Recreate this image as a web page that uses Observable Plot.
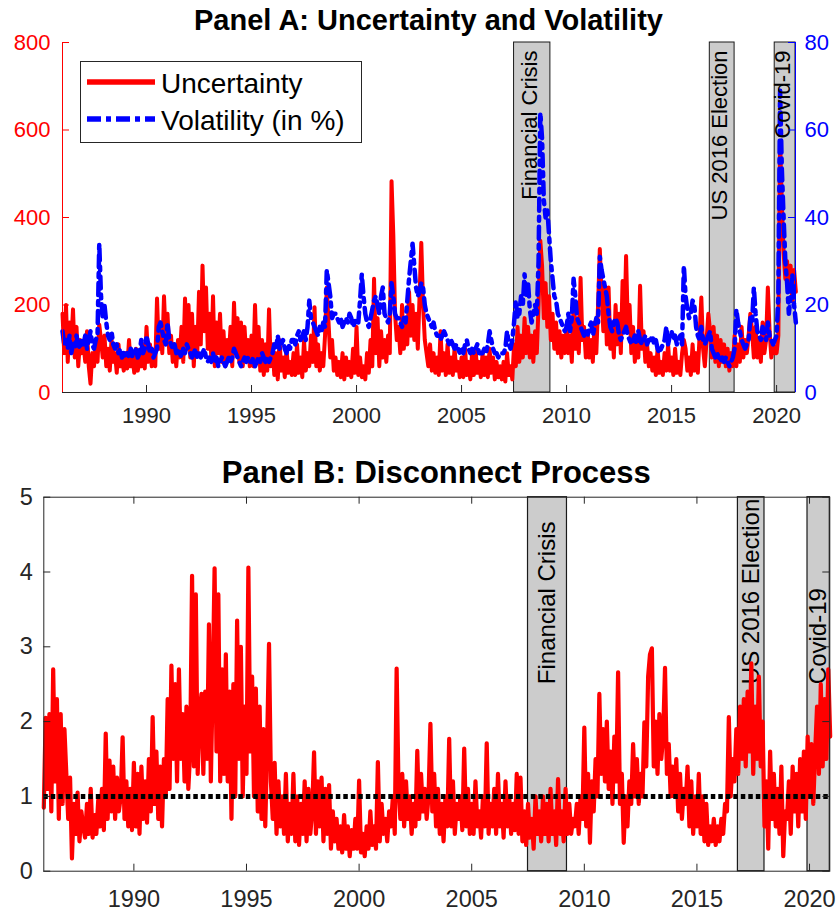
<!DOCTYPE html>
<html>
<head>
<meta charset="utf-8">
<script src="https://cdn.jsdelivr.net/npm/d3@7"></script>
<script src="https://cdn.jsdelivr.net/npm/@observablehq/plot@0.6"></script>
<style>
  html, body { margin: 0; padding: 0; background: #fff; }
  #root { width: 836px; height: 912px; position: relative; overflow: hidden; }
  #root svg { display: block; }
</style>
</head>
<body>
<div id="root"></div>
<script>
// ---------------- DATA (monthly, Jan 1986 .. Dec 2020) ----------------
const startYear = 1986;

const uncertainty = [
  180, 90,200, 70,160,110,190, 80,150, 60,120, 90,   // 1986
  110, 70,140, 60, 20, 90, 60,110, 70,155,120, 80,   // 1987
  130, 60,100, 50,120, 70, 90, 45,110, 60, 80, 50,   // 1988
   90, 55,120, 60, 80, 45,100, 50, 75, 60,110, 55,   // 1989
  150, 70,110, 60, 90, 60,215,100,160, 90,220,120,   // 1990
  180, 90,130, 70,110, 60,120, 80,150, 70,215,100,   // 1991
  200, 80,180, 60,150, 90,230,110,290,140,240,100,   // 1992
  180, 80,220, 60,160, 90,180, 70,140, 60,120, 80,   // 1993
  150, 60,205, 90,170, 70,160, 60,150, 80,120, 60,   // 1994
  130, 60,200, 70,150, 50,120, 40,110, 50,190, 60,   // 1995
  110, 40, 90, 30,120, 50, 80, 35,100, 45, 70, 40,   // 1996
   90, 40,110, 45, 80, 35,120, 50, 90, 60,130, 70,   // 1997
  195, 60,110, 50, 90, 60,130,240,160, 80,120, 50,   // 1998
   80, 40, 70, 35, 90, 30, 80, 40, 70, 35,100, 45,   // 1999
  150, 40, 80, 35, 60, 30, 90, 45,120, 60,260, 90,   // 2000
  170, 60,140, 80,120, 70,130, 90,483,360,180,120,   // 2001
  150, 90,200,100,160,110,230,130,200,120,180,100,   // 2002
  220,342,200,120, 90, 60,110, 50, 90, 45, 80, 40,   // 2003
  140, 50, 90, 40,110, 45, 80, 40,100, 50, 70, 35,   // 2004
   80, 35,100, 40, 70, 30, 90, 40,100, 45, 70, 35,   // 2005
   90, 40, 80, 35,100, 45, 80, 30, 70, 35, 60, 30,   // 2006
   70, 25, 90, 40, 60, 30,110, 60,150, 70,130, 80,   // 2007
  170, 90,150, 80,130, 70,140, 90,200,347,290,170,   // 2008
  250,150,220,120,180,100,160, 90,140, 80,130, 90,   // 2009
  150, 90,130, 70,200,100,170, 90,262,120,150, 80,   // 2010
  140, 80,120, 70,160, 90,200,328,220,140,240,110,   // 2011
  240,100,160, 80,200,110,180, 90,255,140,312,150,   // 2012
  200, 90,150, 70,130, 80,244,100,140, 70,110, 60,   // 2013
   90, 50, 80, 40,100, 45, 70, 40, 90, 50,110, 50,   // 2014
   80, 40,100, 45, 70, 40, 90,120,100, 50, 80, 40,   // 2015
  110, 50, 90, 45,130,217,100, 60,120,180,140, 80,   // 2016
  150, 70,130, 60,120, 70,110, 60,100, 50, 90, 60,   // 2017
  130, 60,110, 70,150, 80,120, 90,130,180,140, 80,   // 2018
  150, 80,120, 70,160, 90,120,240,140, 80,110, 90,   // 2019
   90,130,575,430,320,260,300,230,290,210,280,230    // 2020
];

const volatility = [
  14,11,12,10,13, 9,11,10,13,11,10,12,   // 1986
  11,13,10,12,14,11,10,12,13,34,22,17,   // 1987
  20,16,13,12,14,11,10,11, 9,10, 8, 9,   // 1988
   8, 9, 8,10, 8, 9,10, 8, 9,12, 9,10,   // 1989
  13,11, 9,10, 8, 9,10,15,16,14,12,11,   // 1990
  16,12,11,10,11, 9,10, 9, 8,10, 9,11,   // 1991
  10, 9, 8, 9,10, 8, 9, 8, 9,10, 8, 7,   // 1992
   8, 7, 9, 7, 8, 6, 7, 8, 7, 6, 7, 8,   // 1993
   7, 8,10, 9, 8, 7, 6, 7, 8, 7, 8, 7,   // 1994
   7, 8, 6, 7, 8, 7, 9, 8, 7, 8, 7, 8,   // 1995
   9,11,10,13,10,11,12,10, 9,11,10,12,   // 1996
  12,11,13,14,12,13,14,12,15,21,17,16,   // 1997
  15,14,13,15,14,16,15,28,25,22,17,18,   // 1998
  18,17,16,17,15,16,17,16,18,17,15,16,   // 1999
  17,16,21,27,22,18,16,15,17,19,21,22,   // 2000
  20,18,22,24,18,17,16,18,25,22,18,17,   // 2001
  17,16,15,17,16,21,26,30,34,29,24,22,   // 2002
  23,25,24,20,18,17,16,15,16,14,13,13,   // 2003
  12,13,14,13,12,11,12,11,10,11,10, 9,   // 2004
  10, 9,11,12,10, 9,10, 9,10,11, 9, 9,   // 2005
   9,10, 9,11,14,12,10, 9, 9, 8, 9, 9,   // 2006
   9,10,14,11,10,12,16,21,17,18,22,20,   // 2007
  27,22,25,19,16,18,20,18,30,64,58,44,   // 2008
  40,42,36,30,26,22,21,18,17,16,15,14,   // 2009
  15,18,14,17,26,22,17,16,15,14,13,14,   // 2010
  13,15,16,13,15,17,16,31,28,26,24,22,   // 2011
  18,15,14,16,17,16,13,12,13,14,15,13,   // 2012
  12,11,12,13,11,14,12,11,12,13,11,12,   // 2013
  12,13,11,12,10, 9,10,11,12,15,11,13,   // 2014
  14,12,13,11,12,13,11,29,22,19,17,18,   // 2015
  21,20,15,13,12,15,12,11,12,13,14,10,   // 2016
   9, 8, 9, 8, 7, 8, 7, 8, 7, 6, 7, 8,   // 2017
  10,19,16,14,12,11,10,11,12,17,16,24,   // 2018
  18,14,13,12,15,13,12,16,13,12,11,12,   // 2019
  13,22,69,51,40,30,25,18,22,27,20,16    // 2020
];

const disconnect = [
  0.85,2.05,1.1,2.1,0.8,2.7,1.2,2.3,0.7,2.1,0.9,1.9,        // 1986
  1.3,0.7,1.25,0.17,0.9,0.5,1.05,0.4,0.8,0.6,0.45,0.9,      // 1987
  0.5,1.1,0.45,0.75,0.5,0.95,0.6,1.1,0.55,1.84,0.7,1.48,    // 1988
  0.8,1.4,0.7,1.25,0.8,1.0,1.79,0.7,1.2,0.6,1.1,0.55,       // 1989
  1.45,0.6,1.3,0.5,1.4,0.7,1.2,0.65,1.5,0.8,2.06,0.9,       // 1990
  1.6,0.7,1.4,0.6,1.5,1.0,2.3,1.1,2.75,1.5,2.5,1.2,         // 1991
  2.7,1.5,2.1,1.2,2.2,1.1,1.6,3.95,1.4,3.7,1.3,2.1,         // 1992
  2.37,1.3,2.4,1.5,3.3,1.2,2.5,4.05,1.6,3.7,1.2,2.7,        // 1993
  1.3,2.9,1.2,2.4,0.7,2.5,1.0,3.35,1.5,3.0,1.0,2.2,         // 1994
  1.3,4.06,1.6,2.6,1.0,2.44,0.8,2.2,0.7,1.9,0.6,1.7,        // 1995
  3.04,1.2,0.7,1.45,0.5,1.2,0.6,1.0,0.5,1.3,0.4,0.9,        // 1996
  0.5,1.3,0.4,1.0,0.35,0.9,0.5,1.2,0.4,1.1,0.5,0.8,         // 1997
  1.59,0.5,1.2,0.6,1.25,0.4,1.1,0.5,1.15,0.3,0.8,0.4,       // 1998
  0.7,0.3,0.6,0.25,0.75,0.3,0.6,0.2,0.55,0.3,0.7,0.3,       // 1999
  1.21,0.25,0.5,0.2,0.6,0.3,0.8,0.35,0.6,0.3,1.46,0.4,      // 2000
  0.9,0.5,0.7,0.4,0.8,0.6,1.0,0.5,2.71,1.1,0.7,1.3,         // 2001
  0.6,1.2,0.7,1.0,0.5,0.9,0.6,1.61,0.7,1.3,0.8,1.1,         // 2002
  0.7,1.0,1.97,0.8,1.3,0.6,1.1,0.5,0.9,0.4,1.0,0.6,         // 2003
  1.77,0.6,1.2,0.5,0.9,0.7,1.0,0.55,1.64,0.6,1.1,0.5,       // 2004
  0.9,0.5,1.2,0.6,0.8,0.45,1.0,0.6,1.71,0.5,0.9,0.6,        // 2005
  1.1,0.5,1.3,0.6,0.9,0.45,1.2,0.6,1.0,0.5,0.9,0.55,        // 2006
  1.3,0.5,1.25,0.4,0.8,0.35,0.9,0.45,0.7,0.3,1.0,0.5,       // 2007
  0.8,0.4,1.0,0.5,0.9,0.4,1.1,0.5,0.8,0.35,1.23,0.5,        // 2008
  0.8,0.4,1.1,0.5,0.9,0.5,0.7,0.6,0.9,0.5,1.0,0.7,          // 2009
  1.92,0.6,1.3,0.38,1.2,0.8,1.5,1.0,2.37,1.3,1.9,1.2,       // 2010
  2.0,1.1,1.6,0.9,1.8,1.2,2.66,0.9,1.3,0.38,1.0,0.6,        // 2011
  1.2,0.9,1.7,1.0,1.5,0.9,1.3,1.0,1.99,1.4,2.6,2.9,         // 2012
  2.98,1.4,2.0,1.3,2.1,1.5,1.8,2.72,1.3,1.7,1.0,1.4,        // 2013
  1.0,1.5,0.8,1.3,0.7,1.1,0.9,1.4,0.6,1.2,0.5,1.0,          // 2014
  0.6,1.3,0.5,1.0,0.4,0.9,0.35,0.6,0.4,0.7,0.35,0.6,        // 2015
  0.4,0.7,0.5,0.9,0.8,2.06,1.0,1.5,1.2,1.9,1.3,2.2,         // 2016
  1.5,2.3,1.4,2.4,1.6,2.78,1.3,2.2,1.5,2.6,1.4,2.0,         // 2017
  0.6,1.2,0.3,1.6,0.7,1.3,0.6,1.1,0.5,1.4,0.2,0.8,          // 2018
  0.7,1.2,0.5,1.4,0.8,1.3,0.6,1.5,0.8,1.6,0.7,1.8,          // 2019
  1.0,1.7,0.9,1.6,2.2,1.3,2.5,1.4,2.3,1.5,2.7,1.8           // 2020
];

const eventNames  = ["Financial Crisis", "US 2016 Election", "Covid-19"];
const eventStarts = [2007.5, 2016.82, 2019.91];
const eventEnds   = [2009.23, 2018.0, 2020.9];

const seriesNames = ["Uncertainty", "Volatility (in %)"];
const titleA = "Panel A: Uncertainty and Volatility";
const titleB = "Panel B: Disconnect Process";

const xDomain = [1986, 2020.9];
const xTicks = [1990, 1995, 2000, 2005, 2010, 2015, 2020];
const yTicksA = [0, 200, 400, 600, 800];
const yTicksVol = [0, 20, 40, 60, 80];
const yTicksB = [0, 1, 2, 3, 4, 5];
const disconnectRef = 1;

// ---------------- BUILD ----------------
const FONT = '"Liberation Sans", Arial, Helvetica, sans-serif';
const AX = "#262626";
const volScale = yTicksA[yTicksA.length - 1] / yTicksVol[yTicksVol.length - 1];

const months = uncertainty.map((_, i) => startYear + i / 12);
const dataA = months.map((t, i) => ({t, u: uncertainty[i], v: volatility[i]}));
const dataB = months.map((t, i) => ({t, d: disconnect[i]}));
const events = eventNames.map((name, i) => ({name, start: eventStarts[i], end: eventEnds[i]}));
const mid = d => (d.start + d.end) / 2;

const W = 836;
// Panel A geometry
const A = {h: 450, top: 42, bottom: 58, left: 62, right: 41};
const fwA = W - A.left - A.right, fhA = A.h - A.top - A.bottom;
const TK = 7;

const plotA = Plot.plot({
  width: W, height: A.h,
  marginTop: A.top, marginBottom: A.bottom, marginLeft: A.left, marginRight: A.right,
  style: {fontFamily: FONT, fontSize: "22px", color: AX, background: "white", overflow: "visible"},
  x: {domain: xDomain, label: null},
  y: {domain: [yTicksA[0], yTicksA[yTicksA.length - 1]], label: null},
  marks: [
    Plot.rect(events, {x1: "start", x2: "end", y1: yTicksA[0], y2: yTicksA[yTicksA.length - 1],
      fill: "#cccccc", stroke: "#1a1a1a", strokeWidth: 1}),
    Plot.line(dataA, {x: "t", y: "u", stroke: "#ff0000", strokeWidth: 4, strokeLinejoin: "round"}),
    Plot.line(dataA, {x: "t", y: d => d.v * volScale, stroke: "#0000ff", strokeWidth: 4.5,
      strokeDasharray: "12,6,4,6"}),
    Plot.text(events, {x: mid, frameAnchor: "top", dy: 8, dx: -2, text: "name", rotate: -90,
      textAnchor: "end", lineAnchor: "middle", fontSize: 22, fill: "#000"}),
    // inner ticks
    Plot.ruleX(xTicks, {stroke: AX, insetTop: fhA - TK}),
    Plot.ruleY(yTicksA, {stroke: "#ff0000", insetRight: fwA - TK}),
    Plot.ruleY(yTicksA, {stroke: "#0000ff", insetLeft: fwA - TK}),
    // axis lines
    Plot.ruleY([yTicksA[0]], {stroke: AX}),
    Plot.ruleX([xDomain[0]], {stroke: "#ff0000"}),
    Plot.ruleX([xDomain[1]], {stroke: "#0000ff"}),
    Plot.axisX({ticks: xTicks, tickSize: 0, tickPadding: 15, tickFormat: d => String(d), label: null, color: AX}),
    Plot.axisY({anchor: "left", ticks: yTicksA, tickSize: 0, tickPadding: 12, tickFormat: d => String(d),
      label: null, color: "#ff0000"}),
    Plot.axisY({anchor: "right", ticks: yTicksVol.map(v => v * volScale), tickFormat: d => String(d / volScale),
      tickSize: 0, tickPadding: 9, label: null, color: "#0000ff"})
  ]
});

// Panel B geometry
const B = {h: 462, top: 46.7, bottom: 41.3, left: 43.3, right: 6.7};
const fwB = W - B.left - B.right, fhB = B.h - B.top - B.bottom;

const plotB = Plot.plot({
  width: W, height: B.h,
  marginTop: B.top, marginBottom: B.bottom, marginLeft: B.left, marginRight: B.right,
  style: {fontFamily: FONT, fontSize: "23.5px", color: AX, background: "white", overflow: "visible"},
  x: {domain: xDomain, label: null},
  y: {domain: [yTicksB[0], yTicksB[yTicksB.length - 1]], label: null},
  marks: [
    Plot.rect(events, {x1: "start", x2: "end", y1: yTicksB[0], y2: yTicksB[yTicksB.length - 1],
      fill: "#cccccc", stroke: "#1a1a1a", strokeWidth: 1.2}),
    Plot.text(events, {x: mid, y: 2.5, text: "name", rotate: -90, textAnchor: "start",
      lineAnchor: "middle", fontSize: 24, fill: "#000"}),
    Plot.line(dataB, {x: "t", y: "d", stroke: "#ff0000", strokeWidth: 4.2, strokeLinejoin: "round"}),
    Plot.ruleY([disconnectRef], {stroke: "#000", strokeWidth: 5, strokeDasharray: "4.5,3"}),
    Plot.frame({stroke: AX}),
    Plot.ruleX(xTicks, {stroke: AX, insetTop: fhB - TK}),
    Plot.ruleX(xTicks, {stroke: AX, insetBottom: fhB - TK}),
    Plot.ruleY(yTicksB, {stroke: AX, insetRight: fwB - TK}),
    Plot.ruleY(yTicksB, {stroke: AX, insetLeft: fwB - TK}),
    Plot.axisX({ticks: xTicks, tickSize: 0, tickPadding: 19, tickFormat: d => String(d), label: null, color: AX}),
    Plot.axisY({anchor: "left", ticks: yTicksB, tickSize: 0, tickPadding: 11, tickFormat: d => String(d),
      label: null, color: AX})
  ]
});

// titles
const sA = d3.select(plotA);
sA.append("text").attr("x", 428.5).attr("y", 30).attr("text-anchor", "middle")
  .attr("font-family", FONT).attr("font-size", 29).attr("font-weight", "bold").attr("fill", "#000").text(titleA);
const sB = d3.select(plotB);
sB.append("text").attr("x", 436.3).attr("y", 33).attr("text-anchor", "middle")
  .attr("font-family", FONT).attr("font-size", 31).attr("font-weight", "bold").attr("fill", "#000").text(titleB);

// legend (panel A)
const lg = sA.append("g").attr("font-family", FONT).attr("text-anchor", "start");
lg.append("rect").attr("x", 80.5).attr("y", 61.5).attr("width", 281).attr("height", 81)
  .attr("fill", "#fff").attr("stroke", AX).attr("stroke-width", 1);
const legendItems = [
  {name: seriesNames[0], color: "#ff0000", dash: null, y: 82},
  {name: seriesNames[1], color: "#0000ff", dash: "14,5,5,5", y: 119}
];
legendItems.forEach(it => {
  const ln = lg.append("line").attr("x1", 87).attr("x2", 155).attr("y1", it.y).attr("y2", it.y)
    .attr("stroke", it.color).attr("stroke-width", 5.5);
  if (it.dash) ln.attr("stroke-dasharray", it.dash);
  lg.append("text").attr("x", 161).attr("y", it.y + 11).attr("font-size", 28)
    .attr("text-anchor", "start").attr("fill", "#000").text(it.name);
});

const root = document.getElementById("root");
root.appendChild(plotA);
root.appendChild(plotB);
</script>
</body>
</html>
